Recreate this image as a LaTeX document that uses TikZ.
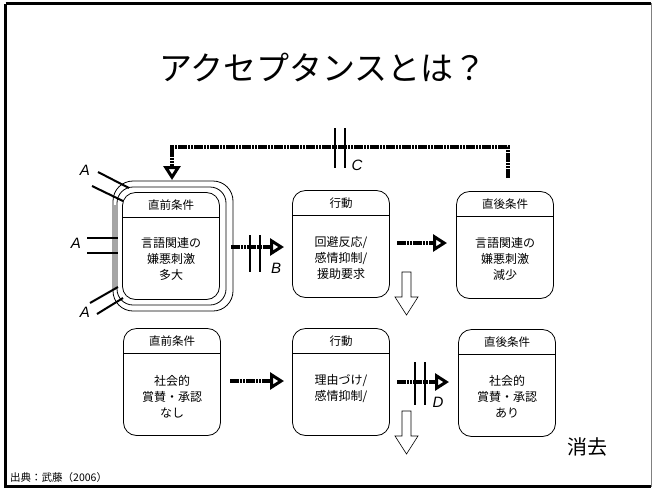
\documentclass[tikz,border=0pt]{standalone}
\usepackage{fontspec}
\setmainfont{Liberation Sans}
\newfontfamily\jp{Noto Sans CJK JP}
\usetikzlibrary{arrows.meta,calc}
\begin{document}
\begin{tikzpicture}[x=1pt,y=-1pt,
  box/.style={draw,line width=0.8pt,rounded corners=13pt,minimum width=97pt,minimum height=107pt,inner sep=0pt},
  hdr/.style={font=\jp\fontsize{11.5}{13}\selectfont,anchor=center},
  body/.style={font=\jp\fontsize{12}{16}\selectfont,align=center,anchor=center},
  flow/.style={line width=4.5pt,dash pattern=on 2.6pt off 0.6pt,-{Triangle[open,length=14pt,width=17pt,line width=3pt]}},
  bar/.style={line width=2.2pt},
  lab/.style={font=\itshape\fontsize{15}{15}\selectfont},
  aline/.style={line width=2pt},
  hollowdown/.pic={\draw[line width=0.6pt,fill=white] (-4.5,0) -- (-4.5,25) -- (-11.5,25) -- (0,43) -- (11.5,25) -- (4.5,25) -- (4.5,0) -- cycle;}
]
\useasboundingbox (0,0) rectangle (653,488);
% frame
\draw[line width=3pt] (5.5,3.5) -- (5.5,486.5) -- (651,486.5);
\draw[line width=3pt] (5.5,3.5) -- (651,3.5);
\draw[gray,line width=1.2pt] (651.5,3) -- (651.5,487);

% title
\node[font=\jp\fontsize{33}{36}\selectfont] (title) at (323,68) {アクセプタンスとは？};

% row 1 boxes
\node[box] (b1) at (171,246) {};
\node[box] (b2) at (341,244) {};
\node[box] (b3) at (505,245) {};
% row 2 boxes
\node[box] (b4) at (172,382) {};
\node[box] (b5) at (341,382) {};
\node[box] (b6) at (507,383) {};

% double frame round b1
\draw[line width=0.8pt,rounded corners=16pt] (117,187) rectangle (226,305);
\draw[line width=0.8pt,rounded corners=20pt] (113,181) rectangle (233,311);
\fill[gray!70] (114,205) rectangle (117,290);

% header separators and texts
\foreach \b in {b1,b2,b3,b4,b5,b6}{
  \draw[line width=0.8pt] ($(\b.north west)+(0,25)$) -- ($(\b.north east)+(0,25)$);
}
\node[hdr] (h1) at ($(b1.north)+(0,13)$) {直前条件};
\node[hdr] (h2) at ($(b2.north)+(0,13)$) {行動};
\node[hdr] (h3) at ($(b3.north)+(0,13)$) {直後条件};
\node[hdr] (h4) at ($(b4.north)+(0,13)$) {直前条件};
\node[hdr] (h5) at ($(b5.north)+(0,13)$) {行動};
\node[hdr] (h6) at ($(b6.north)+(0,13)$) {直後条件};

\node[body] (t1) at (171,259) {言語関連の\\嫌悪刺激\\多大};
\node[body] (t2) at (341,258) {回避反応/\\感情抑制/\\援助要求};
\node[body] (t3) at (505,259) {言語関連の\\嫌悪刺激\\減少};
\node[body] (t4) at (172,397) {社会的\\賞賛・承認\\なし};
\node[body] (t5) at (341,389) {理由づけ/\\感情抑制/};
\node[body] (t6) at (507,397) {社会的\\賞賛・承認\\あり};

% A lines
\draw[aline] (98,172) -- (129,188);
\draw[aline] (92,186) -- (123,201);
\draw[aline] (87,238) -- (118,238);
\draw[aline] (87,253) -- (118,253);
\draw[aline] (90,303) -- (118,287);
\draw[aline] (97,314) -- (123,298);
\node[lab] (la1) at (85,170) {A};
\node[lab] (la2) at (76,243) {A};
\node[lab] (la3) at (85,312) {A};

% arrow B
\coordinate (bs) at (231,247);
\coordinate (be) at (284,247);
\draw[flow] (bs) -- (be);
\draw[bar] (250,235) -- (250,272);
\draw[bar] (260,235) -- (260,272);
\node[lab] (lb) at (276,268) {B};

% arrow b2 -> b3
\draw[flow] (397,243) -- (447,243);

% feedback C
\coordinate (c1) at (508,178);
\coordinate (c2) at (508,147);
\coordinate (c3) at (172,147);
\coordinate (c4) at (172,180);
\draw[flow] (c1) -- (c2) -- (c3) -- (c4);
\draw[bar] (335,128) -- (335,168);
\draw[bar] (345,128) -- (345,168);
\node[lab] (lc) at (357,165) {C};

% down arrows
\pic at (406.5,272) {hollowdown};
\pic at (406.5,411) {hollowdown};

% row 2 arrows
\draw[flow] (230,381) -- (284,381);
\draw[flow] (397,382) -- (449,382);
\draw[bar] (415,362) -- (415,405);
\draw[bar] (425,362) -- (425,405);
\node[lab] (ld) at (438,402) {D};

% texts
\node[font=\jp\fontsize{20}{21}\selectfont] (ext) at (587,447) {消去};
\node[font=\jp\fontsize{10.5}{11}\selectfont,anchor=west,inner sep=0pt] (src) at (10,478) {出典：武藤（2006）};
\end{tikzpicture}
\end{document}
